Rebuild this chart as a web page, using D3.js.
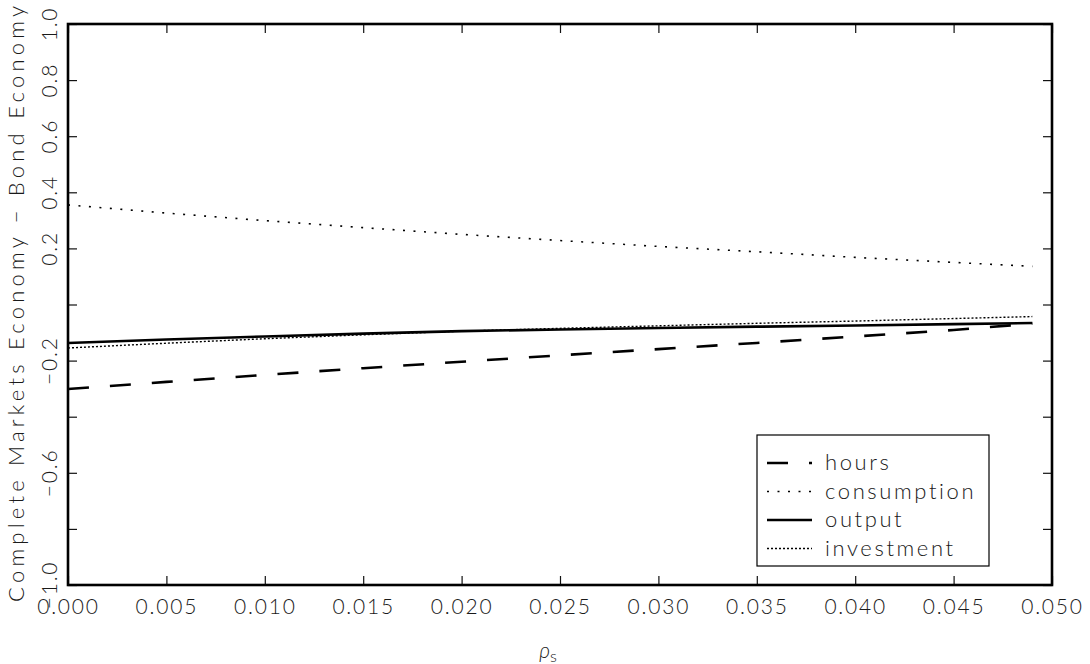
<!DOCTYPE html>
<html><head><meta charset="utf-8">
<script src="https://cdn.jsdelivr.net/npm/d3@7"></script>
<style>
body{margin:0;background:#fff;}
text{font-family:Lato, "DejaVu Sans", sans-serif;font-weight:300;fill:#1a1a1a;}
</style></head>
<body><svg id="c" width="1090" height="664"></svg>
<script>
const rho = [0, 0.005, 0.010, 0.015, 0.020, 0.025, 0.030, 0.035, 0.040, 0.045, 0.049];
const hours = [-0.301, -0.276, -0.251, -0.227, -0.204, -0.181, -0.159, -0.137, -0.114, -0.091, -0.068];
const consumption = [0.355, 0.326, 0.299, 0.274, 0.250, 0.228, 0.207, 0.188, 0.168, 0.150, 0.136];
const output = [-0.137, -0.125, -0.114, -0.104, -0.095, -0.089, -0.084, -0.079, -0.075, -0.070, -0.066];
const investment = [-0.155, -0.138, -0.122, -0.108, -0.095, -0.085, -0.076, -0.067, -0.059, -0.050, -0.043];
const xTicks = [0, 0.005, 0.010, 0.015, 0.020, 0.025, 0.030, 0.035, 0.040, 0.045, 0.050];
const xTickLabels = ["0.000","0.005","0.010","0.015","0.020","0.025","0.030","0.035","0.040","0.045","0.050"];
const yTicks = [1.0, 0.8, 0.6, 0.4, 0.2, 0.0, -0.2, -0.4, -0.6, -0.8, -1.0];
const yTickLabels = ["1.0","0.8","0.6","0.4","0.2","","\u22120.2","","\u22120.6","","\u22121.0"];
const seriesNames = ["hours","consumption","output","investment"];

const svg = d3.select("#c");
const L = 68, R = 1052, T = 24, B = 585;
const x = d3.scaleLinear().domain([0, 0.05]).range([L, R]);
const y = d3.scaleLinear().domain([-1, 1]).range([B, T]);

const styles = {
  hours: {w: 2.6, dash: "21,21"},
  consumption: {w: 1.6, dash: "2,8.5"},
  output: {w: 2.6, dash: null},
  investment: {w: 1.4, dash: "2,2"}
};
const data = {hours, consumption, output, investment};

// axes
const gB = svg.append("g").attr("transform", `translate(0,${B})`)
  .call(d3.axisBottom(x).tickValues(xTicks).tickSizeInner(-9).tickSizeOuter(0).tickPadding(14)
    .tickFormat((d,i)=>xTickLabels[i]));
const gT = svg.append("g").attr("transform", `translate(0,${T})`)
  .call(d3.axisTop(x).tickValues(xTicks).tickSizeInner(-9).tickSizeOuter(0).tickFormat(""));
const gL = svg.append("g").attr("transform", `translate(${L},0)`)
  .call(d3.axisLeft(y).tickValues(yTicks).tickSizeInner(-9).tickSizeOuter(0).tickFormat(""));
const gR = svg.append("g").attr("transform", `translate(${R},0)`)
  .call(d3.axisRight(y).tickValues(yTicks).tickSizeInner(-9).tickSizeOuter(0).tickFormat(""));
[gB,gT,gL,gR].forEach(g=>{
  g.select(".domain").remove();
  g.selectAll(".tick line").attr("stroke","#111").attr("stroke-width",1.2);
});
gB.selectAll(".tick text").attr("font-size",21).attr("letter-spacing","1.8px")
  .style("font-family","Lato, 'DejaVu Sans', sans-serif").attr("font-weight",300).attr("fill","#1a1a1a");

// y tick labels rotated
svg.append("g").selectAll("text").data(yTicks).join("text")
  .attr("transform", d=>`translate(57,${y(d)}) rotate(-90)`)
  .attr("text-anchor","middle").attr("font-size",21).attr("letter-spacing","1.8px")
  .text((d,i)=>yTickLabels[i]);

// frame
svg.append("rect").attr("x",L).attr("y",T).attr("width",R-L).attr("height",B-T)
  .attr("fill","none").attr("stroke","#000").attr("stroke-width",2.6);

// lines
const line = d3.line().x((d,i)=>x(rho[i])).y(d=>y(d));
seriesNames.forEach(n=>{
  svg.append("path").datum(data[n]).attr("d", line).attr("fill","none")
    .attr("stroke","#000").attr("stroke-width",styles[n].w)
    .attr("stroke-dasharray",styles[n].dash);
});

// axis titles
svg.append("text").attr("x",548).attr("y",658).attr("text-anchor","middle").attr("font-size",21)
  .html('<tspan font-style="italic">\u03c1</tspan><tspan font-size="16" dy="4">s</tspan>');
svg.append("text").attr("transform","translate(24,304) rotate(-90)").attr("text-anchor","middle")
  .attr("font-size",22).attr("textLength",596).attr("lengthAdjust","spacing")
  .text("Complete Markets Economy \u2212 Bond Economy");

// legend
const lg = svg.append("g");
lg.append("rect").attr("x",757).attr("y",435).attr("width",232).attr("height",131)
  .attr("fill","#fff").attr("stroke","#000").attr("stroke-width",1.2);
seriesNames.forEach((n,i)=>{
  const yy = 463 + i*28.5;
  lg.append("line").attr("x1",767).attr("x2",812).attr("y1",yy).attr("y2",yy)
    .attr("stroke","#000").attr("stroke-width",styles[n].w).attr("stroke-dasharray",styles[n].dash);
  lg.append("text").attr("x",825).attr("y",yy+7).attr("font-size",22).attr("letter-spacing","2.6px").text(n);
});
</script></body></html>
